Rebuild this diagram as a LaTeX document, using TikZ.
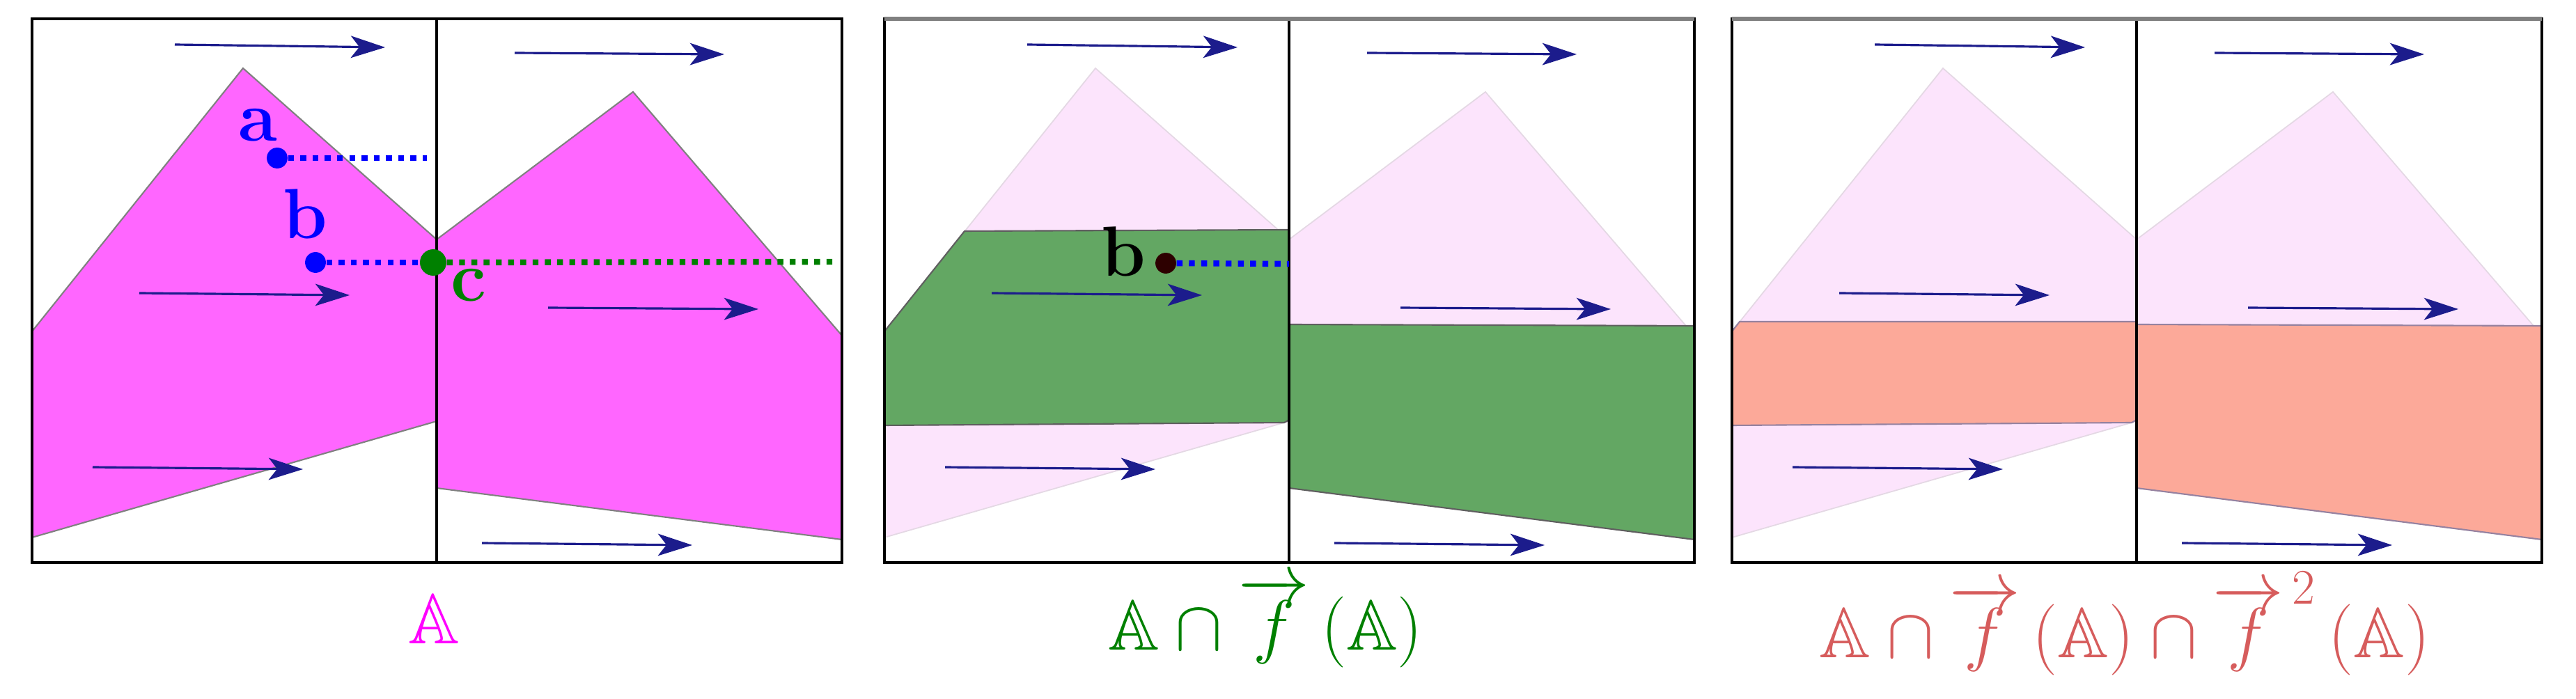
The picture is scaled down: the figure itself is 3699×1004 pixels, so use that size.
\RequirePackage{fix-cm}
\documentclass[tikz,border=0pt]{standalone}
\usepackage{amssymb}
\DeclareFontFamily{U}{msb}{}
\DeclareFontShape{U}{msb}{m}{n}{<-> msbm10}{}
\usetikzlibrary{arrows.meta}
\definecolor{magfill}{RGB}{255,102,255}
\definecolor{maglabel}{RGB}{255,0,255}
\definecolor{pinkfill}{RGB}{252,228,252}
\definecolor{pinkedge}{RGB}{228,216,228}
\definecolor{greenfill}{RGB}{99,167,99}
\definecolor{greenedge}{RGB}{95,95,95}
\definecolor{salmonfill}{RGB}{252,169,153}
\definecolor{salmonedge}{RGB}{150,130,160}
\definecolor{flowblue}{RGB}{28,28,140}
\definecolor{dkgreen}{RGB}{0,128,0}
\definecolor{lblred}{RGB}{214,92,92}
\definecolor{dotbrown}{RGB}{45,0,0}
\newcommand{\bigsz}{\fontsize{29}{34}\selectfont}
\newcommand{\panelframe}{%
  \draw[frameline] (0,27) rectangle (1163,808);
  \draw[frameline] (581,27) -- (581,808);}
\newcommand{\panelarrows}{%
  \draw[flowarrow] (205,64) -- (507,68);
  \draw[flowarrow] (693,76) -- (994,78);
  \draw[flowarrow] (154,421) -- (456,424);
  \draw[flowarrow] (741,442) -- (1043,444);
  \draw[flowarrow] (87,671) -- (389,674);
  \draw[flowarrow] (646,780) -- (948,783);}
\newcommand{\pinkshapes}{%
  \path[pinkshape] (0,476) -- (303,98) -- (581,344) -- (581,605) -- (0,772) -- cycle;
  \path[pinkshape] (581,344) -- (863,132) -- (1163,482) -- (1163,775) -- (581,701) -- cycle;}
\begin{document}
\begin{tikzpicture}[x=0.01cm,y=-0.01cm,
  frameline/.style={draw=black,line width=0.9pt},
  graytop/.style={draw=gray,line width=1.6pt},
  flowarrow/.style={draw=flowblue,line width=0.9pt,-{Stealth[length=14pt,width=9pt,inset=3.5pt]}},
  magshape/.style={fill=magfill,draw=gray,line width=0.6pt},
  pinkshape/.style={fill=pinkfill,draw=pinkedge,line width=0.5pt},
  greenshape/.style={fill=greenfill,draw=greenedge,line width=0.6pt},
  salmonshape/.style={fill=salmonfill,draw=salmonedge,line width=0.6pt},
  dots/.style={line width=2.4pt,dash pattern=on 2.4pt off 2.6pt},
  dotnode/.style={circle,inner sep=0pt,minimum size=8.5pt},
  lbl/.style={inner sep=0pt,anchor=base,font=\bigsz\bfseries},
  captext/.style={inner sep=0pt,anchor=base,font=\bigsz}]
\useasboundingbox (0,0) rectangle (3699,1004);
% ---------- panel 1 ----------
\begin{scope}[shift={(46,0)}]
  \path[magshape] (0,476) -- (303,98) -- (581,344) -- (581,605) -- (0,772) -- cycle;
  \path[magshape] (581,344) -- (863,132) -- (1163,482) -- (1163,775) -- (581,701) -- cycle;
  \panelarrows
  \panelframe
  \coordinate (aend) at (567,227);
  \coordinate (cend) at (1156,376);
  \node[dotnode,fill=blue] (adot) at (352,227) {};
  \node[dotnode,fill=blue] (bdot) at (407,377) {};
  \node[dotnode,fill=dkgreen,minimum size=10.8pt] (cdot) at (576,377) {};
  \draw[dots,blue] (adot) -- (aend);
  \draw[dots,blue] (bdot) -- (cdot);
  \draw[dots,dkgreen] (cdot) -- (cend);
  \node[lbl,text=blue] (alab) at (324,203) {a};
  \node[lbl,text=blue] (blab) at (392,343) {b};
  \node[lbl,text=dkgreen] (clab) at (627,433) {c};
\end{scope}
% ---------- panel 2 ----------
\begin{scope}[shift={(1270,0)}]
  \pinkshapes
  \path[greenshape] (115,332) -- (581,330) -- (581,603) -- (574,607) -- (0,611) -- (0,476) -- cycle;
  \path[greenshape] (581,466) -- (1163,468) -- (1163,775) -- (581,701) -- cycle;
  \panelarrows
  \panelframe
  \draw[graytop] (0,27) -- (1163,27);
  \coordinate (b2end) at (581,379);
  \node[dotnode,fill=dotbrown] (b2dot) at (404,378) {};
  \draw[dots,blue] (b2dot) -- (b2end);
  \node[lbl,text=black] (b2lab) at (343,397) {b};
\end{scope}
% ---------- panel 3 ----------
\begin{scope}[shift={(2487,0)}]
  \pinkshapes
  \path[salmonshape] (11,462) -- (581,462) -- (581,603) -- (574,607) -- (0,611) -- (0,476) -- cycle;
  \path[salmonshape] (581,466) -- (1163,468) -- (1163,775) -- (581,701) -- cycle;
  \panelarrows
  \panelframe
  \draw[graytop] (0,27) -- (1163,27);
\end{scope}
% ---------- captions ----------
\node[captext,text=maglabel] (cap1) at (623,925) {$\mathbb{A}$};
\node[captext,text=dkgreen] (cap2) at (1817,934) {$\mathbb{A}\cap\overrightarrow{f}\,(\mathbb{A})$};
\node[captext,text=lblred] (cap3) at (3051,945) {$\mathbb{A}\cap\overrightarrow{f}\,(\mathbb{A})\cap\overrightarrow{f}^{\,2}\,(\mathbb{A})$};
\end{tikzpicture}
\end{document}
